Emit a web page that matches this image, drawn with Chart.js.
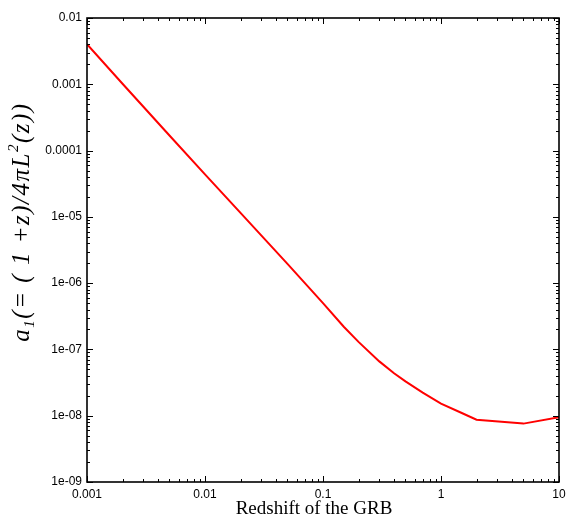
<!DOCTYPE html>
<html><head><meta charset="utf-8">
<script src="https://cdn.jsdelivr.net/npm/chart.js@4.4.1/dist/chart.umd.min.js"></script>
<style>html,body{margin:0;padding:0;background:#fff;}#wrap{width:567px;height:526px;}</style>
</head><body><div id="wrap"><canvas id="c" width="567" height="526"></canvas></div>
<script>
const redshift = [0.001,0.002,0.005,0.01,0.02,0.05,0.1,0.15,0.2,0.3,0.4,0.5,0.7,1,1.5,2,5,10];
const a1 = [4.03e-3,1.02e-3,1.69e-4,4.37e-5,1.15e-5,1.95e-6,5.0e-7,2.2e-7,1.30e-7,6.6e-8,4.37e-8,3.3e-8,2.23e-8,1.52e-8,1.10e-8,8.7e-9,7.6e-9,9.5e-9];
const xTickValues = [0.001,0.01,0.1,1,10];
const xTickLabels = ['0.001','0.01','0.1','1','10'];
const yTickValues = [1e-9,1e-8,1e-7,1e-6,1e-5,1e-4,1e-3,1e-2];
const yTickLabels = ['1e-09','1e-08','1e-07','1e-06','1e-05','0.0001','0.001','0.01'];
const xTitle = 'Redshift of the GRB';
const yTitleParts = [
  {t:'a', size:25, dy:0},
  {t:'1', size:15, dy:5},
  {t:'(= ( 1 +z)/4\u03C0L', size:25, dy:0},
  {t:'2', size:15, dy:-11},
  {t:'(z))', size:25, dy:0}
];

function minorValues(minExp, maxExp, maxV){
  const out=[];
  for(let k=minExp;k<=maxExp;k++){
    for(let m=1;m<=9;m++){
      const v = m*Math.pow(10,k);
      if(v<=maxV*1.0001) out.push({v, major:m===1});
    }
  }
  return out;
}

const framePlugin = {
  id:'frame',
  afterDraw(chart){
    const ctx = chart.ctx, a = chart.chartArea;
    const xs = chart.scales.x, ys = chart.scales.y;
    ctx.save();
    ctx.strokeStyle = '#000';
    ctx.lineWidth = 1;
    minorValues(-3,1,10).forEach(o=>{
      const px = Math.round(xs.getPixelForValue(o.v))+0.5;
      const len = o.major?6:3;
      ctx.beginPath();
      ctx.moveTo(px,a.bottom); ctx.lineTo(px,a.bottom-len);
      ctx.moveTo(px,a.top); ctx.lineTo(px,a.top+len);
      ctx.stroke();
    });
    minorValues(-9,-2,0.01).forEach(o=>{
      const py = Math.round(ys.getPixelForValue(o.v))+0.5;
      const len = o.major?6:3;
      ctx.beginPath();
      ctx.moveTo(a.left,py); ctx.lineTo(a.left+len,py);
      ctx.moveTo(a.right,py); ctx.lineTo(a.right-len,py);
      ctx.stroke();
    });
    ctx.lineWidth = 1.6;
    ctx.strokeRect(a.left, a.top, a.right-a.left, a.bottom-a.top);
    // x title
    ctx.fillStyle = '#000';
    ctx.font = '19px "Liberation Serif"';
    ctx.textAlign = 'center';
    ctx.textBaseline = 'alphabetic';
    ctx.fillText(xTitle, 314, 514);
    // y title
    ctx.translate(29, 222);
    ctx.rotate(-Math.PI/2);
    ctx.textAlign = 'left';
    if ('letterSpacing' in ctx) ctx.letterSpacing = '1.5px';
    let total = 0;
    yTitleParts.forEach(p=>{ctx.font = 'italic '+p.size+'px "Liberation Serif"'; p.w = ctx.measureText(p.t).width; total += p.w;});
    let x = -total/2;
    yTitleParts.forEach(p=>{ctx.font = 'italic '+p.size+'px "Liberation Serif"'; ctx.fillText(p.t, x, p.dy); x += p.w;});
    ctx.restore();
  }
};

new Chart(document.getElementById('c'), {
  type:'line',
  data:{
    datasets:[{
      data: redshift.map((z,i)=>({x:z, y:a1[i]})),
      borderColor:'#ff0000',
      borderWidth:2,
      pointRadius:0,
      tension:0,
      fill:false
    }]
  },
  options:{
    responsive:false,
    animation:false,
    devicePixelRatio:1,
    layout:{padding:{top:18,right:8,left:0,bottom:0}},
    plugins:{legend:{display:false}, tooltip:{enabled:false}},
    scales:{
      x:{
        type:'logarithmic', min:0.001, max:10,
        afterBuildTicks:s=>{s.ticks = xTickValues.map(v=>({value:v}));},
        afterFit:s=>{s.height = 44; s.paddingRight = 0; s.paddingLeft = 0;},
        ticks:{autoSkip:false, maxRotation:0, minRotation:0, padding:5, color:'#000',
          font:{family:'Liberation Sans', size:12},
          callback:(v,i)=>xTickLabels[i]},
        grid:{display:false, drawTicks:false},
        border:{display:false}
      },
      y:{
        type:'logarithmic', min:1e-9, max:0.01,
        afterBuildTicks:s=>{s.ticks = yTickValues.map(v=>({value:v}));},
        afterFit:s=>{s.width = 87; s.paddingTop = 0; s.paddingBottom = 0;},
        ticks:{autoSkip:false, padding:5, color:'#000',
          font:{family:'Liberation Sans', size:12},
          callback:(v,i)=>yTickLabels[i]},
        grid:{display:false, drawTicks:false},
        border:{display:false}
      }
    }
  },
  plugins:[framePlugin]
});
</script>
</body></html>
